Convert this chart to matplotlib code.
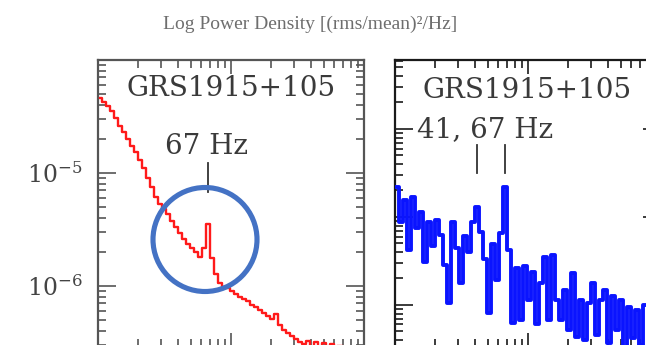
import matplotlib
matplotlib.use("Agg")
import matplotlib.pyplot as plt
from matplotlib.ticker import FixedLocator, LogLocator, NullFormatter, LogFormatterSciNotation
from matplotlib.patches import Ellipse
import matplotlib.transforms as mtransforms

# ---- GRS 1915+105, left panel: averaged power spectrum (red) ----
red_freq = [10.35, 11.09, 11.89, 12.74, 13.66, 14.64, 15.69, 16.81, 18.02, 19.31,
            20.70, 22.18, 23.77, 25.47, 27.30, 29.26, 31.35, 33.60, 36.01, 38.59,
            41.36, 44.33, 47.51, 50.92, 54.56, 58.48, 62.66, 67.16, 71.97, 77.13,
            82.66, 88.59, 94.93, 101.7, 109.0, 116.8, 125.2, 134.2, 143.8, 154.2,
            165.2, 177.1, 189.7, 203.3, 217.9, 233.6, 250.3, 268.2, 287.4, 308.0,
            330.1, 353.8, 379.1, 406.3, 435.5, 466.7, 500.1, 536.0, 574.4, 615.6,
            659.6, 707.0]
red_power = [4.61e-5, 4.25e-5, 3.92e-5, 3.54e-5, 3.07e-5, 2.61e-5, 2.31e-5, 2.00e-5, 1.73e-5, 1.54e-5,
             1.30e-5, 1.11e-5, 9.03e-6, 7.52e-6, 6.13e-6, 5.32e-6, 4.80e-6, 4.34e-6, 3.76e-6, 3.33e-6,
             2.94e-6, 2.61e-6, 2.35e-6, 2.17e-6, 2.00e-6, 1.81e-6, 2.17e-6, 3.54e-6, 1.77e-6, 1.28e-6,
             1.06e-6, 9.8e-7, 9.6e-7, 9.0e-7, 8.5e-7, 8.0e-7, 7.67e-7, 7.36e-7, 6.79e-7, 6.52e-7,
             6.14e-7, 5.77e-7, 5.43e-7, 5.11e-7, 5.65e-7, 4.52e-7, 4.08e-7, 3.84e-7, 3.61e-7, 3.40e-7,
             3.19e-7, 3.07e-7, 3.26e-7, 2.83e-7, 3.19e-7, 2.77e-7, 3.13e-7, 2.72e-7, 3.07e-7, 2.61e-7,
             2.94e-7, 2.40e-7]

# ---- GRS 1915+105, right panel: single-observation spectrum (blue) ----
blue_freq = [10.35, 11.09, 11.89, 12.74, 13.66, 14.64, 15.69, 16.81, 18.02, 19.31,
             20.70, 22.18, 23.77, 25.47, 27.30, 29.26, 31.35, 33.60, 36.01, 38.59,
             41.36, 44.33, 47.51, 50.92, 54.56, 58.48, 62.66, 67.16, 71.97, 77.13,
             82.66, 88.59, 94.93, 101.7, 109.0, 116.8, 125.2, 134.2, 143.8, 154.2,
             165.2, 177.1, 189.7, 203.3, 217.9, 233.6, 250.3, 268.2, 287.4, 308.0,
             330.1, 353.8, 379.1, 406.3, 435.5, 466.7, 500.1, 536.0, 574.4, 615.6,
             659.6, 707.0, 757.8]
blue_power = [2.19e-4, 8.8e-5, 1.56e-4, 4.2e-5, 1.69e-4, 7.5e-5, 1.14e-4, 3.08e-5, 8.8e-5, 4.7e-5,
              9.2e-5, 6.2e-5, 2.85e-5, 1.05e-5, 8.8e-5, 4.4e-5, 1.78e-5, 6.1e-5, 4.0e-5, 8.8e-5,
              1.30e-4, 6.8e-5, 3.3e-5, 8.1e-6, 4.9e-5, 1.92e-5, 6.6e-5, 2.19e-4, 4.2e-5, 6.2e-6,
              2.6e-5, 6.8e-6, 2.8e-5, 1.14e-5, 2.4e-5, 6.0e-6, 1.78e-5, 3.5e-5, 6.8e-6, 3.7e-5,
              1.14e-5, 6.8e-6, 1.48e-5, 5.2e-6, 2.3e-5, 4.3e-6, 1.14e-5, 4.0e-6, 1.05e-5, 1.78e-5,
              4.6e-6, 1.14e-5, 1.48e-5, 3.7e-6, 1.26e-5, 5.2e-6, 1.14e-5, 3.3e-6, 9.5e-6, 4.2e-6,
              8.8e-6, 3.5e-6, 1.0e-5]

source_name = "GRS1915+105"
qpo_left = [67]
qpo_right = [41, 67]
left_label = "67 Hz"
right_label = "41, 67 Hz"
title = "Log Power Density [(rms/mean)\u00b2/Hz]"

plt.rcParams["mathtext.fontset"] = "dejavuserif"
plt.rcParams["font.family"] = ["DejaVu Serif"]

W, H = 646, 345
fig = plt.figure(figsize=(W / 100, H / 100), dpi=100)
fig.patch.set_facecolor("white")


def rect(x0, x1, y_top, y_bot):
    return [x0 / W, 1 - y_bot / H, (x1 - x0) / W, (y_bot - y_top) / H]


ax1 = fig.add_axes(rect(98, 364, 60, 347))
ax2 = fig.add_axes(rect(395, 661, 60, 347))

ax1.plot(red_freq, red_power, color="#ff1a1a", lw=1.7, drawstyle="steps-mid", zorder=3)
ax2.plot(blue_freq, blue_power, color="#0a14ff", lw=2.8, drawstyle="steps-mid", zorder=3)

for ax, spine_col in ((ax1, "#555555"), (ax2, "#1a1a1a")):
    ax.set_xscale("log")
    ax.set_yscale("log")
    ax.set_xlim(10, 1000)
    for s in ax.spines.values():
        s.set_color(spine_col)
        s.set_linewidth(1.6)
    ax.xaxis.set_minor_locator(LogLocator(base=10, subs=range(2, 10)))
    ax.yaxis.set_minor_locator(LogLocator(base=10, subs=range(2, 10), numticks=20))
    ax.xaxis.set_minor_formatter(NullFormatter())
    ax.yaxis.set_minor_formatter(NullFormatter())
    ax.tick_params(which="both", direction="in", top=True, right=True,
                   labelbottom=False, colors=spine_col, width=1.2)
    ax.tick_params(axis="x", which="major", length=10)
    ax.tick_params(axis="y", which="major", length=13)
    ax.tick_params(which="minor", length=5.5)

ax1.set_ylim(2.88e-7, 1e-4)
ax1.yaxis.set_major_locator(FixedLocator([1e-6, 1e-5]))
ax1.yaxis.set_major_formatter(LogFormatterSciNotation())
ax1.tick_params(axis="y", which="major", labelsize=17, labelcolor="#444444", pad=11)

ax2.set_ylim(3.33e-6, 6.08e-3)
ax2.yaxis.set_major_locator(FixedLocator([1e-5, 1e-4, 1e-3]))
ax2.tick_params(axis="y", labelleft=False)

txt_kw = dict(fontsize=20, color="#3a3a3a", family="DejaVu Serif")
ax1.text(0.109, 0.902, source_name, transform=ax1.transAxes, ha="left", va="center", **txt_kw)
ax2.text(0.105, 0.895, source_name, transform=ax2.transAxes, ha="left", va="center", **txt_kw)
ax1.text(0.408, 0.697, left_label, transform=ax1.transAxes, ha="center", va="center", **txt_kw)
ax2.text(0.083, 0.756, right_label, transform=ax2.transAxes, ha="left", va="center", **txt_kw)

# QPO marker lines
t1 = mtransforms.blended_transform_factory(ax1.transData, ax1.transAxes)
for f in qpo_left:
    ax1.plot([f, f], [0.540, 0.641], transform=t1, color="#333333", lw=1.3)
t2 = mtransforms.blended_transform_factory(ax2.transData, ax2.transAxes)
for f in qpo_right:
    ax2.plot([f, f], [0.606, 0.704], transform=t2, color="#333333", lw=1.3)

fig.text(310 / W, 1 - 24 / H, title, ha="center", va="center",
         fontsize=14, color="#6e6e6e", family="Liberation Serif")

# highlight ring around the 67 Hz feature
ring = Ellipse((205 / W, 1 - 239.5 / H), 104 / W, 104 / H, transform=fig.transFigure,
               fill=False, ec="#4472C4", lw=3.7, zorder=10)
fig.add_artist(ring)

fig.savefig("out.png", dpi=100)
